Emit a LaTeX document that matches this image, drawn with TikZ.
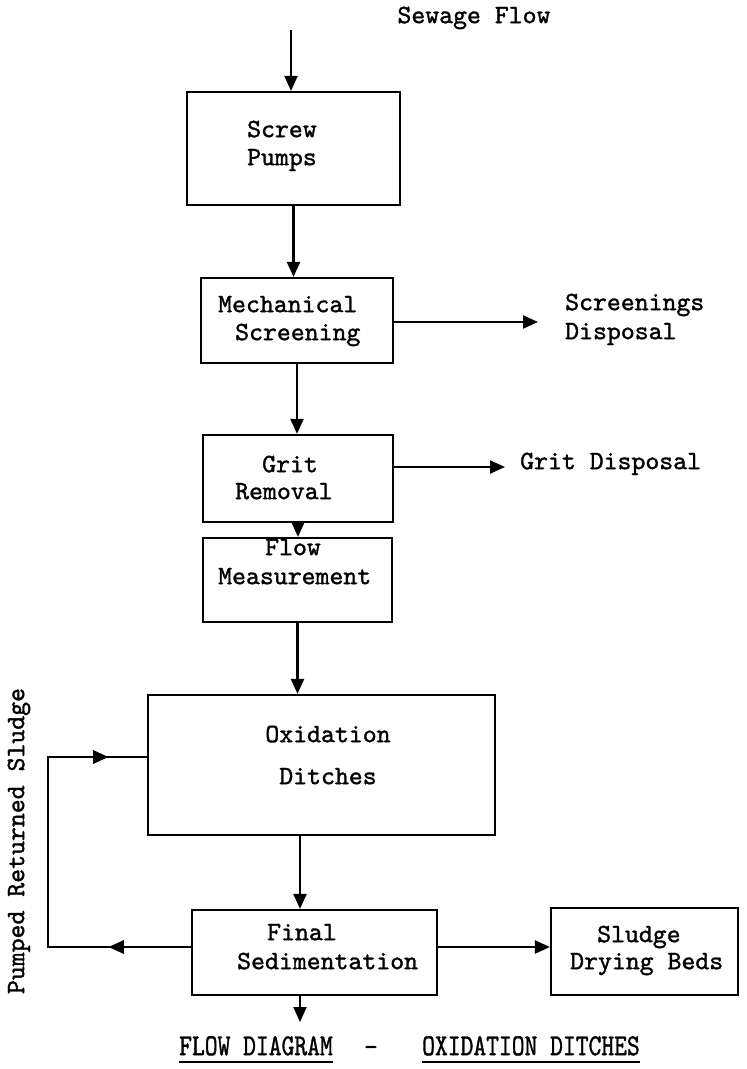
\documentclass[tikz,border=0pt]{standalone}
\usepackage{fontspec}
\newfontfamily\typer{lmmono10-regular}[Extension=.otf, FakeBold=1.3]
\usetikzlibrary{arrows.meta,decorations.markings,calc}
\tikzset{
  box/.style={draw, line width=2.2pt, rectangle, inner sep=0pt},
  lbl/.style={font=\typer\fontsize{26.5}{28}\selectfont, inner sep=0pt, anchor=mid west},
  clbl/.style={font=\typer\fontsize{26.5}{28}\selectfont, inner sep=0pt, anchor=mid},
  flow/.style={line width=2.2pt, -{Triangle[length=15pt,width=13pt]}},
  wire/.style={line width=2.2pt},
  midtip/.style={postaction={decorate}, decoration={markings, mark=at position #1 with {\arrow{Triangle[length=15pt,width=13pt]}}}}
}
\begin{document}
\begin{tikzpicture}[x=1pt,y=-1pt]
\useasboundingbox (0,0) rectangle (747,1069);
\fill[white] (0,0) rectangle (747,1069);

% boxes
\node[box, minimum width=213pt, minimum height=113pt] (sp) at (293.5,148.5) {};
\node[box, minimum width=192pt, minimum height=85pt] (ms) at (297,320.5) {};
\node[box, minimum width=190pt, minimum height=87pt] (gr) at (298,478.5) {};
\node[box, minimum width=189pt, minimum height=84pt] (fm) at (297.5,580) {};
\node[box, minimum width=347pt, minimum height=140pt] (ox) at (321.5,765) {};
\node[box, minimum width=245pt, minimum height=85pt] (fs) at (314.5,952.5) {};
\node[box, minimum width=187pt, minimum height=87pt] (sl) at (644.5,951.5) {};

% texts
\node[clbl] (sf) at (474,21) {Sewage Flow};
\node[lbl] (t1) at (247,135) {Screw};
\node[lbl] (t2) at (247,163) {Pumps};
\node[lbl] (t3) at (218,310) {Mechanical};
\node[lbl] (t4) at (235,338) {Screening};
\node[lbl] (t5) at (565,308) {Screenings};
\node[lbl] (t6) at (565,337) {Disposal};
\node[lbl] (t7) at (262,470) {Grit};
\node[lbl] (t8) at (235,497) {Removal};
\node[lbl] (t9) at (520,467) {Grit Disposal};
\node[lbl] (t10) at (265,553) {Flow};
\node[lbl] (t11) at (218,582) {Measurement};
\node[clbl] (t12) at (328,740) {Oxidation};
\node[clbl] (t13) at (328,782) {Ditches};
\node[lbl] (t14) at (267,938) {Final};
\node[lbl] (t15) at (237,967) {Sedimentation};
\node[lbl] (t16) at (597,940) {Sludge};
\node[lbl] (t17) at (570,967) {Drying Beds};
\node[clbl, rotate=90] (t18) at (22,841) {Pumped Returned Sludge};

% title
\node[lbl] (h1) at (179,1053) {\scalebox{0.92}[1.15]{FLOW DIAGRAM}};
\node[clbl] (h2) at (371,1053) {-};
\node[lbl] (h3) at (422,1053) {\scalebox{0.92}[1.15]{OXIDATION DITCHES}};
\draw[line width=1.8pt] (h1.south west) ++(0,6) coordinate (u1) -- (u1 -| h1.east);
\draw[line width=1.8pt] (h3.south west) ++(0,6) coordinate (u2) -- (u2 -| h3.east);

% connectors
\coordinate (in) at (291,30);
\draw[flow] (in) -- (in |- sp.north);
\draw[flow] (sp.south) -- (sp.south |- ms.north);
\draw[flow] (ms.south) -- (ms.south |- gr.north);
\draw[flow] (gr.south) -- (gr.south |- fm.north);
\draw[flow] (fm.south) -- (fm.south |- ox.north);
\coordinate (oxo) at (300,835);
\draw[flow] (oxo) -- (oxo |- fs.north);
\coordinate (out) at (300,1022);
\draw[flow] (out |- fs.south) -- (out);

\coordinate (sd) at (538,322);
\draw[flow] (sd -| ms.east) -- (sd);
\coordinate (gd) at (505,467);
\draw[flow] (gd -| gr.east) -- (gd);
\coordinate (bl) at (0,947);
\draw[flow] (bl -| fs.east) -- (bl -| sl.west);

% return sludge loop
\coordinate (rb) at (48,947);
\coordinate (rt) at (48,757);
\draw[wire, midtip=82pt, midtip=393pt] (rb -| fs.west) -- (rb) -- (rt) -- (rt -| ox.west);
\end{tikzpicture}
\end{document}
